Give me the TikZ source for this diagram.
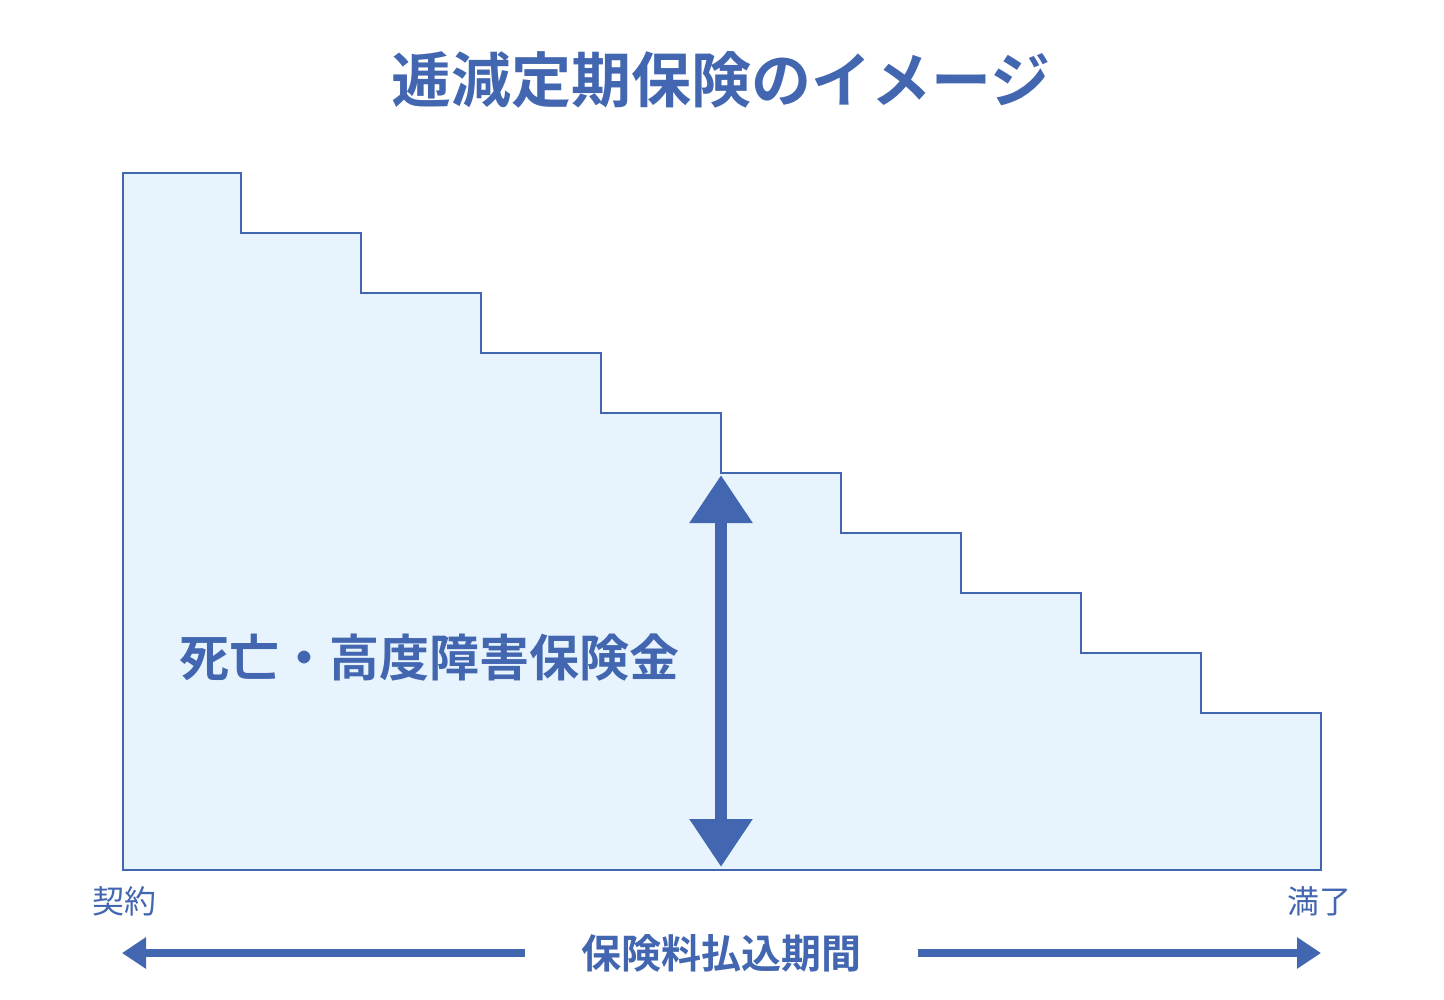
\documentclass[tikz,border=0pt]{standalone}
\usepackage{fontspec}
\newfontfamily\cjk{Noto Sans CJK JP}[BoldFont={Noto Sans CJK JP Bold}]
\usetikzlibrary{arrows.meta}
\definecolor{mblue}{HTML}{4266B0}
\definecolor{lfill}{HTML}{E8F4FD}
\begin{document}
\begin{tikzpicture}[x=0.5pt,y=-0.5pt,
  lbl/.style={text=mblue,font=\cjk\bfseries,inner sep=0pt},
  bigarrow/.style={mblue,line width=6pt,{Triangle[width=30pt,length=24pt]}-{Triangle[width=30pt,length=24pt]}},
  harrow/.style={mblue,line width=4pt,-{Triangle[width=15pt,length=12pt]}}]
\useasboundingbox (0,0) rectangle (1444,1000);
\fill[white] (0,0) rectangle (1444,1000);
\filldraw[fill=lfill,draw=mblue,line width=1pt]
 (123,870) -- (123,173) -- (241,173) -- (241,233) -- (361,233) -- (361,293)
 -- (481,293) -- (481,353) -- (601,353) -- (601,413) -- (721,413) -- (721,473)
 -- (841,473) -- (841,533) -- (961,533) -- (961,593) -- (1081,593) -- (1081,653)
 -- (1201,653) -- (1201,713) -- (1321,713) -- (1321,870) -- cycle;
\node[lbl,font=\cjk\bfseries\fontsize{30pt}{32pt}\selectfont] (title) at (721,80) {逓減定期保険のイメージ};
\coordinate (vt) at (721,475);
\coordinate (vb) at (721,867);
\draw[bigarrow] (vt) -- (vb);
\node[lbl,font=\cjk\bfseries\fontsize{25pt}{27pt}\selectfont] (benefit) at (429,658) {死亡・高度障害保険金};
\node[lbl,font=\cjk\fontsize{16pt}{18pt}\selectfont] (start) at (124,901) {契約};
\node[lbl,font=\cjk\fontsize{16pt}{18pt}\selectfont] (end) at (1319,901) {満了};
\node[lbl,font=\cjk\bfseries\fontsize{20pt}{22pt}\selectfont] (period) at (721,953) {保険料払込期間};
\coordinate (la) at (525,953);
\coordinate (lb) at (122,953);
\coordinate (ra) at (918,953);
\coordinate (rb) at (1321,953);
\draw[harrow] (la) -- (lb);
\draw[harrow] (ra) -- (rb);
\end{tikzpicture}
\end{document}
